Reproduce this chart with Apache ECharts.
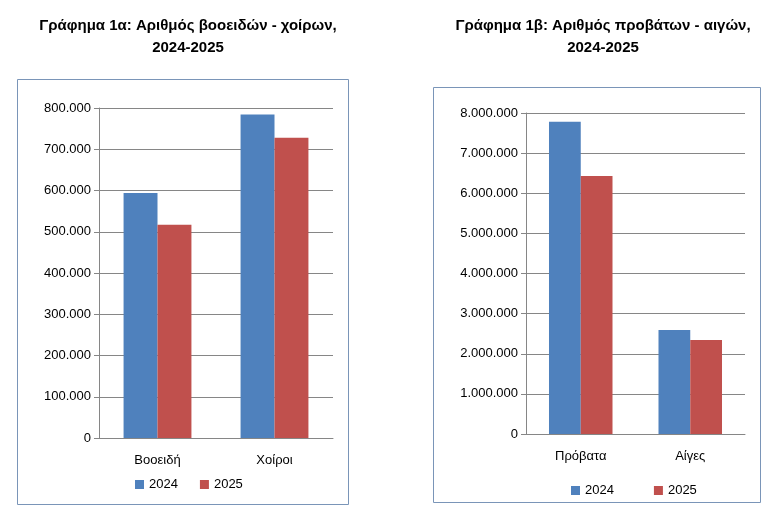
<!DOCTYPE html>
<html>
<head>
<meta charset="utf-8">
<script src="https://cdn.jsdelivr.net/npm/echarts@6/dist/echarts.min.js"></script>
<style>body{margin:0;background:#fff}#c{width:770px;height:510px}</style>
</head>
<body>
<div id="c"></div>
<script>
// left chart: cattle / pigs
let catsA = ['Βοοειδή', 'Χοίροι'];
let a2024 = [594000, 784000];
let a2025 = [517000, 728000];
// right chart: sheep / goats
let catsB = ['Πρόβατα', 'Αίγες'];
let b2024 = [7780000, 2590000];
let b2025 = [6430000, 2340000];
let years = ['2024', '2025'];

let fmt = function (v) { return v.toLocaleString('de-DE'); };
let font = 'Liberation Sans';
let colors = ['#4F81BD', '#C0504D'];

function axes(i, cats, max, interval) {
    return {
        x: {
            type: 'category', gridIndex: i, data: cats,
            axisTick: { show: false },
            axisLine: { lineStyle: { color: '#868686' } },
            axisLabel: { color: '#000', fontSize: 13, fontFamily: font, margin: 16 }
        },
        y: {
            type: 'value', gridIndex: i, min: 0, max: max, interval: interval,
            axisLine: { show: true, lineStyle: { color: '#868686' } },
            axisTick: { show: true, length: 5, inside: false, lineStyle: { color: '#868686' } },
            splitLine: { lineStyle: { color: '#868686' } },
            axisLabel: { color: '#000', fontSize: 13, fontFamily: font, formatter: fmt }
        }
    };
}
let A = axes(0, catsA, 800000, 100000);
let B = axes(1, catsB, 8000000, 1000000);

function bar(name, data, i, c) {
    return {
        name: name, type: 'bar', data: data, xAxisIndex: i, yAxisIndex: i,
        barGap: '0%', barCategoryGap: '42%', itemStyle: { color: c }, animation: false
    };
}

let myChart = echarts.init(document.getElementById('c'));
myChart.setOption({
    animation: false,
    title: [
        { text: 'Γράφημα 1α: Αριθμός βοοειδών - χοίρων,\n2024-2025', left: 183, top: 10, textAlign: 'center',
          textStyle: { fontSize: 15, fontWeight: 'bold', fontFamily: font, lineHeight: 22, color: '#000' } },
        { text: 'Γράφημα 1β: Αριθμός προβάτων - αιγών,\n2024-2025', left: 598, top: 10, textAlign: 'center',
          textStyle: { fontSize: 15, fontWeight: 'bold', fontFamily: font, lineHeight: 22, color: '#000' } }
    ],
    graphic: [
        { type: 'rect', shape: { x: 17.5, y: 79.5, width: 331, height: 425 }, style: { fill: 'none', stroke: '#7a95b8', lineWidth: 1 } },
        { type: 'rect', shape: { x: 433.5, y: 87.5, width: 327, height: 415 }, style: { fill: 'none', stroke: '#7a95b8', lineWidth: 1 } }
    ],
    legend: [
        { data: years, left: 130, top: 473, itemWidth: 9, itemHeight: 9, itemGap: 22, icon: 'rect',
          textStyle: { fontSize: 13, fontFamily: font, color: '#000' } },
        { data: years, left: 566, top: 479, itemWidth: 9, itemHeight: 9, itemGap: 40, icon: 'rect',
          textStyle: { fontSize: 13, fontFamily: font, color: '#000' } }
    ],
    grid: [
        { left: 99, top: 108, width: 234, height: 330 },
        { left: 526, top: 113, width: 219, height: 321 }
    ],
    xAxis: [A.x, B.x],
    yAxis: [A.y, B.y],
    series: [
        bar('2024', a2024, 0, colors[0]),
        bar('2025', a2025, 0, colors[1]),
        bar('2024', b2024, 1, colors[0]),
        bar('2025', b2025, 1, colors[1])
    ]
});
</script>
</body>
</html>
